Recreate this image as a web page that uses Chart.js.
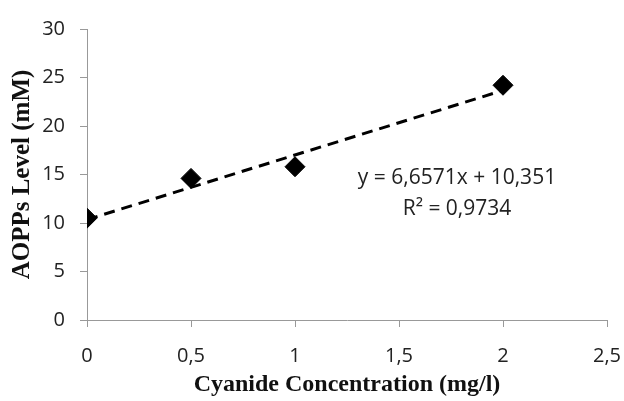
<!DOCTYPE html>
<html>
<head>
<meta charset="utf-8">
<script src="https://cdn.jsdelivr.net/npm/chart.js@4"></script>
<style>
  html, body { margin: 0; padding: 0; background: #fff; }
  #wrap { width: 624px; height: 401px; }
</style>
</head>
<body>
<div id="wrap"><canvas id="grafico"></canvas></div>
<script>
// valores
const concentracoes = [0, 0.5, 1, 2];
const niveisAOPP = [10.5, 14.6, 15.8, 24.2];
// linha de tendência (extremos da reta y = 6,6571x + 10,351)
const tendX = [0, 2];
const tendY = [10.35, 23.67];
const equacao = ["y = 6,6571x + 10,351", "R² = 0,9734"];

const pontos = concentracoes.map((x, i) => ({ x: x, y: niveisAOPP[i] }));
const reta = tendX.map((x, i) => ({ x: x, y: tendY[i] }));

// escreve a equação da reta
const textoEquacao = {
    id: "textoEquacao",
    afterDatasetsDraw(chart) {
        const ctx = chart.ctx;
        ctx.save();
        ctx.font = "21px 'Open Sans'";
        ctx.fillStyle = "#222";
        ctx.textAlign = "center";
        ctx.textBaseline = "middle";
        ctx.fillText(equacao[0], 457, 178);
        ctx.fillText(equacao[1], 457, 209);
        ctx.restore();
    }
};

new Chart(document.getElementById("grafico"), {
    type: "scatter",
    data: {
        datasets: [{
            label: "tendência",
            data: reta,
            showLine: true,
            borderColor: "#000",
            borderWidth: 3,
            borderDash: [11, 7],
            pointRadius: 0,
            fill: false
        }, {
            label: "AOPPs",
            data: pontos,
            pointStyle: "rectRot",
            pointRadius: 10,
            backgroundColor: "#000",
            borderColor: "#000",
            showLine: false
        }]
    },
    options: {
        responsive: true,
        maintainAspectRatio: false,
        animation: false,
        layout: { padding: { left: 8, top: 29, right: 17, bottom: 2 } },
        plugins: {
            legend: { display: false },
            tooltip: { enabled: false }
        },
        scales: {
            x: {
                type: "linear",
                min: 0,
                max: 2.5,
                ticks: {
                    stepSize: 0.5,
                    color: "#222",
                    font: { family: "'Open Sans'", size: 20 },
                    padding: 17,
                    callback: v => String(v).replace(".", ",")
                },
                grid: { drawOnChartArea: false, drawTicks: true, tickLength: 7, color: "#999" },
                border: { color: "#999", width: 1 },
                title: {
                    display: true,
                    text: "Cyanide Concentration (mg/l)",
                    color: "#111",
                    font: { family: "'Liberation Serif'", size: 24, weight: "bold" },
                    padding: { top: 0, bottom: 0 }
                },
                afterFit: s => { s.height = 79; s.paddingLeft = 0; s.paddingRight = 0; }
            },
            y: {
                min: 0,
                max: 30,
                ticks: {
                    stepSize: 5,
                    color: "#222",
                    font: { family: "'Open Sans'", size: 20 },
                    padding: 15
                },
                grid: { drawOnChartArea: false, drawTicks: true, tickLength: 7, color: "#999" },
                border: { color: "#999", width: 1 },
                title: {
                    display: true,
                    text: "AOPPs Level (mM)",
                    color: "#111",
                    font: { family: "'Liberation Serif'", size: 25, weight: "bold" },
                    padding: { top: 0, bottom: 2 }
                },
                afterFit: s => { s.width = 79; s.paddingTop = 0; s.paddingBottom = 0; }
            }
        }
    },
    plugins: [textoEquacao]
});
</script>
</body>
</html>
